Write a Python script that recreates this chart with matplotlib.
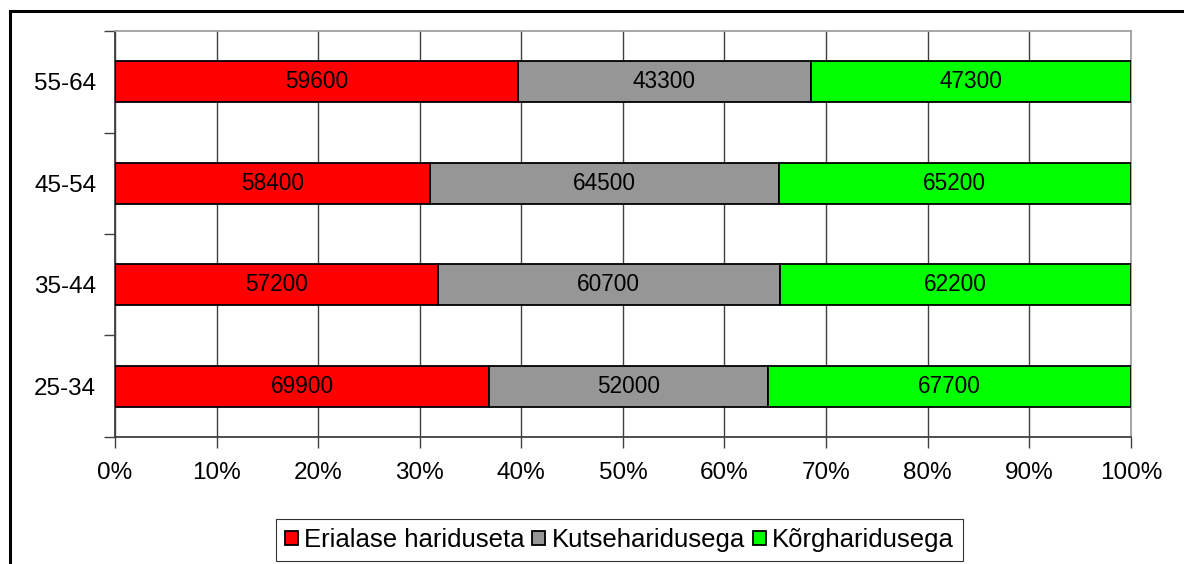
import numpy as np
import matplotlib.pyplot as plt
from matplotlib.patches import Rectangle

plt.rcParams['font.family'] = ['Liberation Sans', 'DejaVu Sans']

age_groups = ['25-34', '35-44', '45-54', '55-64']
erialase = [69900, 57200, 58400, 59600]
kutse = [52000, 60700, 64500, 43300]
korg = [67700, 62200, 65200, 47300]

series = [
    ('Erialase hariduseta', erialase, '#FF0000'),
    ('Kutseharidusega', kutse, '#969696'),
    ('Kõrgharidusega', korg, '#00FF00'),
]

totals = np.array(erialase) + np.array(kutse) + np.array(korg)

fig = plt.figure(figsize=(11.84, 5.64), dpi=100)
ax = fig.add_axes([0.0971, 0.2252, 0.858, 0.7198])

y = np.arange(len(age_groups))
left = np.zeros(len(age_groups))
for name, vals, col in series:
    share = np.array(vals) / totals * 100
    ax.barh(y, share, left=left, height=0.405, color=col, edgecolor='black',
            linewidth=1.3, label=name, zorder=3)
    for yi, l, s, v in zip(y, left, share, vals):
        ax.text(l + s / 2, yi, str(v), ha='center', va='center',
                fontsize=16.3, color='black', zorder=4)
    left += share

ax.set_xlim(0, 100)
ax.set_ylim(-0.5, len(age_groups) - 0.5)
ax.set_xticks(np.arange(0, 101, 10))
ax.set_xticklabels([f'{v}%' for v in range(0, 101, 10)], fontsize=17.5)
ax.set_yticks(y)
ax.set_yticklabels(age_groups, fontsize=17.5)
ax.set_yticks(np.arange(-0.5, len(age_groups), 1), minor=True)
ax.tick_params(axis='y', which='major', length=0, pad=13.5)
ax.tick_params(axis='y', which='minor', length=8, width=1, color='#404040', direction='out')
ax.tick_params(axis='x', length=8, width=1, color='#404040', pad=10)
ax.grid(axis='x', color='#404040', linewidth=1, zorder=0)

ax.spines['left'].set_color('#404040')
ax.spines['bottom'].set_color('#404040')
ax.spines['top'].set_color('#A0A0A0')
ax.spines['right'].set_color('#A0A0A0')
for s in ax.spines.values():
    s.set_linewidth(1.3)

leg = fig.legend(loc='upper left', bbox_to_anchor=(276 / 1184, 45 / 564), ncol=3,
                 fontsize=18.5, frameon=True, fancybox=False, edgecolor='black',
                 handlelength=0.5, handleheight=0.5, handletextpad=0.25,
                 columnspacing=0.3, borderpad=0.35, borderaxespad=0)
leg.get_frame().set_linewidth(0.8)

# outer chart frame
fig.patches.append(Rectangle((10 / 1184, -0.1), 1.2, 0.1 + 553 / 564,
                             transform=fig.transFigure, fill=False,
                             edgecolor='black', linewidth=2.2))

fig.savefig('out.png', dpi=100)
